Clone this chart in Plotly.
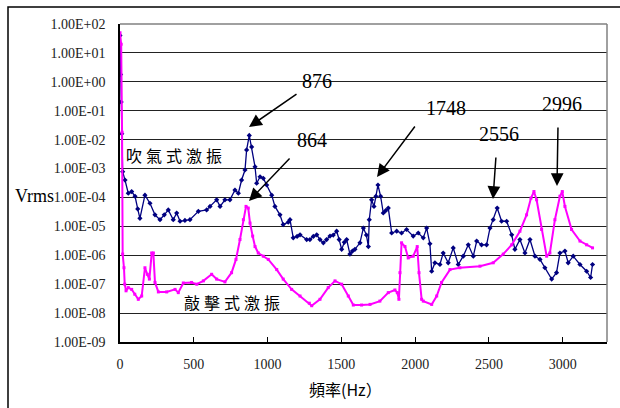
import plotly.graph_objects as go

# ---- data ----
blow_freq = [0, 4, 8, 12, 18, 34, 56, 79, 102, 120, 135, 169, 203, 237, 271, 300, 327, 361, 384, 407,
             440, 474, 531, 587, 610, 655, 678, 711, 745, 779, 802, 824, 847, 858, 876, 892, 915, 926,
             949, 971, 994, 1028, 1050, 1084, 1106, 1140, 1152, 1174, 1200, 1220, 1265, 1287, 1310,
             1333, 1355, 1378, 1400, 1423, 1445, 1468, 1485, 1502, 1520, 1536, 1558, 1575, 1592, 1626,
             1649, 1670, 1683, 1689, 1705, 1721, 1734, 1748, 1766, 1784, 1800, 1818, 1841, 1875, 1908,
             1942, 1987, 2021, 2055, 2078, 2100, 2112, 2134, 2168, 2190, 2224, 2258, 2292, 2326, 2360,
             2394, 2417, 2450, 2484, 2507, 2529, 2556, 2586, 2620, 2654, 2676, 2710, 2744, 2778, 2812,
             2846, 2879, 2925, 2958, 2981, 3015, 3037, 3071, 3117, 3162, 3189, 3202]
blow_vrms = [40, 1.8, 0.2, 1.6e-2, 7.8e-4, 4.0e-4, 1.4e-4, 1.6e-4, 1.1e-4, 4.0e-5, 1.9e-5, 1.2e-4, 6.3e-5,
             2.5e-5, 1.7e-5, 2.5e-5, 3.7e-5, 1.7e-5, 2.9e-5, 1.5e-5, 1.6e-5, 1.7e-5, 3.3e-5, 3.7e-5,
             4.9e-5, 8.3e-5, 4.9e-5, 8.3e-5, 8.3e-5, 1.8e-4, 1.4e-4, 4.0e-4, 8.9e-4, 4.4e-3, 1.4e-2,
             5.6e-3, 1.15e-3, 3.1e-4, 5.2e-4, 4.6e-4, 2.7e-4, 1.2e-4, 4.9e-5, 2.5e-5, 1.15e-5, 1.4e-5,
             1.7e-5, 4.0e-6, 4.5e-6, 5.1e-6, 3.5e-6, 3.5e-6, 4.5e-6, 5.1e-6, 3.5e-6, 2.7e-6, 3.5e-6,
             4.6e-6, 5.0e-6, 6.8e-6, 3.5e-6, 1.6e-6, 2.8e-6, 3.5e-6, 1.1e-6, 1.4e-6, 1.6e-6, 2.7e-6,
             8.7e-6, 5.0e-6, 2.0e-6, 1.7e-5, 8.3e-5, 4.9e-5, 1.1e-4, 2.7e-4, 1.1e-4, 2.9e-5, 3.5e-5,
             4.3e-5, 5.9e-6, 6.8e-6, 5.9e-6, 7.8e-6, 4.6e-6, 5.9e-6, 4.0e-6, 8.7e-6, 2.5e-6, 2.8e-7,
             5.5e-7, 4.8e-7, 1.2e-6, 5.5e-7, 1.8e-6, 4.8e-7, 9.3e-7, 2.3e-6, 9.3e-7, 3.1e-6, 2.3e-6,
             2.3e-6, 8.7e-6, 1.7e-5, 4.3e-5, 1.5e-5, 1.5e-5, 5.1e-6, 1.6e-6, 3.5e-6, 1.2e-6, 3.5e-6,
             9.3e-7, 7.2e-7, 3.7e-7, 1.5e-7, 2.5e-7, 1.2e-6, 1.4e-6, 5.5e-7, 9.3e-7, 4.8e-7, 2.8e-7,
             1.7e-7, 4.8e-7]

tap_freq = [0, 8, 14, 18, 27, 32, 41, 56, 79, 100, 124, 147, 169, 185, 199, 215, 226, 237, 260, 316,
            373, 395, 429, 485, 520, 565, 621, 655, 711, 756, 786, 813, 836, 854, 869, 881, 899, 915,
            937, 971, 1005, 1062, 1106, 1163, 1220, 1283, 1299, 1355, 1411, 1457, 1502, 1547, 1581,
            1637, 1694, 1761, 1818, 1863, 1879, 1890, 1897, 1908, 1931, 1953, 1987, 2014, 2026, 2044,
            2055, 2112, 2146, 2179, 2236, 2303, 2439, 2529, 2597, 2654, 2710, 2755, 2785, 2805, 2823,
            2857, 2891, 2913, 2947, 2981, 2997, 3015, 3060, 3117, 3162, 3202]
tap_vrms = [50, 20, 1.8e-2, 1.1e-6, 3.7e-7, 1.0e-7, 5.9e-8, 7.6e-8, 6.6e-8, 4.5e-8, 3.0e-8, 3.9e-8,
            3.7e-7, 2.2e-7, 1.5e-7, 1.2e-6, 1.2e-6, 1.15e-7, 5.4e-8, 5.4e-8, 6.6e-8, 5.1e-8, 1.1e-7,
            1.15e-7, 1.0e-7, 1.3e-7, 2.2e-7, 1.5e-7, 1.2e-7, 2.5e-7, 7.2e-7, 3.5e-6, 1.7e-5, 4.9e-5,
            4.3e-5, 1.3e-5, 4.6e-6, 2.0e-6, 1.2e-6, 9.3e-7, 7.2e-7, 3.2e-7, 1.5e-7, 6.6e-8, 3.9e-8,
            2.2e-8, 1.8e-8, 3.0e-8, 7.6e-8, 1.3e-7, 1.0e-7, 3.9e-8, 1.9e-8, 1.9e-8, 2.0e-8, 2.6e-8,
            5.1e-8, 6.3e-8, 5.1e-8, 3.0e-8, 2.5e-7, 2.7e-6, 2.0e-6, 8.1e-7, 9.3e-7, 2.0e-6, 2.5e-7,
            3.0e-8, 2.6e-8, 2.0e-8, 3.9e-8, 1.15e-7, 3.2e-7, 3.7e-7, 4.2e-7, 5.5e-7, 1.1e-6, 2.3e-6,
            6.8e-6, 2.5e-5, 9.5e-5, 1.6e-4, 8.3e-5, 7.8e-6, 9.3e-7, 1.2e-6, 1.7e-5, 1.1e-4, 1.6e-4,
            4.9e-5, 7.8e-6, 3.1e-6, 2.3e-6, 1.8e-6]

y_tickvals = [1e2, 1e1, 1e0, 1e-1, 1e-2, 1e-3, 1e-4, 1e-5, 1e-6, 1e-7, 1e-8, 1e-9]
y_ticktext = ["1.00E+02", "1.00E+01", "1.00E+00", "1.00E-01", "1.00E-02", "1.00E-03",
              "1.00E-04", "1.00E-05", "1.00E-06", "1.00E-07", "1.00E-08", "1.00E-09"]
x_tickvals = [0, 500, 1000, 1500, 2000, 2500, 3000]
x_ticktext = ["0", "500", "1000", "1500", "2000", "2500", "3000"]

peak_labels = ["876", "864", "1748", "2556", "2996"]

# ---- layout geometry (pixels) ----
W, H = 620, 408
L, R, T, B = 120, 13, 24, 66
PW, PH = W - L - R, H - T - B


def px(xp):
    return (xp - L) / PW


def py(yp):
    return (H - B - yp) / PH


SERIF = "Liberation Serif"
CJK = "Noto Sans CJK TC"

fig = go.Figure()
fig.add_trace(go.Scatter(x=blow_freq, y=blow_vrms, mode="lines+markers", name="吹氣式激振",
                         line=dict(color="#000080", width=1.3),
                         marker=dict(symbol="diamond", size=4, color="#000080")))
fig.add_trace(go.Scatter(x=tap_freq, y=tap_vrms, mode="lines+markers", name="敲擊式激振",
                         line=dict(color="#FF00FF", width=2),
                         marker=dict(symbol="square", size=3, color="#FF00FF")))

annotations = []
label_pos = [(317, 81), (312, 140), (446, 108), (499, 134), (562, 104)]
for txt, (xp, yp) in zip(peak_labels, label_pos):
    annotations.append(dict(text=txt, x=px(xp), y=py(yp), xref="paper", yref="paper",
                            showarrow=False, xanchor="center", yanchor="middle",
                            font=dict(family=SERIF, size=20, color="black")))
arrows = [((249, 127), (49, -34)), ((249, 201), (42, -44)), ((377, 177), (39, -52)),
          ((493, 199), (3, -43)), ((557, 186), (1, -60))]
for (hx, hy), (ax, ay) in arrows:
    annotations.append(dict(text="", x=px(hx), y=py(hy), xref="paper", yref="paper",
                            showarrow=True, ax=ax, ay=ay, arrowhead=2, arrowsize=1.7,
                            arrowwidth=1.5, arrowcolor="black"))
annotations.append(dict(text='<span style="letter-spacing:4px">吹氣式激振</span>', x=px(176), y=py(155),
                        xref="paper", yref="paper", showarrow=False, xanchor="center", yanchor="middle",
                        font=dict(family=CJK, size=16, color="black")))
annotations.append(dict(text='<span style="letter-spacing:4px">敲擊式激振</span>', x=px(234), y=py(302),
                        xref="paper", yref="paper", showarrow=False, xanchor="center", yanchor="middle",
                        font=dict(family=CJK, size=16, color="black")))
annotations.append(dict(text="Vrms", x=px(34), y=py(196), xref="paper", yref="paper",
                        showarrow=False, xanchor="center", yanchor="middle",
                        font=dict(family=SERIF, size=18, color="black")))
annotations.append(dict(text="頻率(Hz）", x=px(345), y=py(389), xref="paper", yref="paper",
                        showarrow=False, xanchor="center", yanchor="middle",
                        font=dict(family=CJK, size=16, color="black")))

shapes = [
    dict(type="rect", xref="paper", yref="paper", x0=px(8), x1=px(640), y0=py(430), y1=py(7),
         line=dict(color="black", width=1.5), fillcolor="rgba(0,0,0,0)", layer="below"),
    dict(type="line", xref="paper", yref="paper", x0=0, x1=1, y0=1, y1=1,
         line=dict(color="#808080", width=1.5)),
    dict(type="line", xref="paper", yref="paper", x0=1, x1=1, y0=0, y1=1,
         line=dict(color="#808080", width=1.5)),
]

fig.update_layout(
    width=W, height=H, margin=dict(l=L, r=R, t=T, b=B),
    paper_bgcolor="white", plot_bgcolor="white", showlegend=False,
    annotations=annotations, shapes=shapes,
    xaxis=dict(range=[0, 3300], tickvals=x_tickvals, ticktext=x_ticktext,
               showgrid=False, zeroline=False, showline=True, linecolor="black", linewidth=1.5,
               ticks="inside", ticklen=5, tickcolor="black",
               tickfont=dict(family=SERIF, size=14, color="#222"), ticklabelstandoff=8),
    yaxis=dict(type="log", range=[-9, 2], tickvals=y_tickvals, ticktext=y_ticktext,
               showgrid=True, gridcolor="#222", gridwidth=1, zeroline=False,
               showline=True, linecolor="black", linewidth=1.5, ticks="",
               tickfont=dict(family=SERIF, size=14, color="#222"), ticklabelstandoff=10),
)

fig.write_html("out.html", config={"displayModeBar": False},
               post_script="document.body.style.margin='0px';document.body.style.overflow='hidden';")
